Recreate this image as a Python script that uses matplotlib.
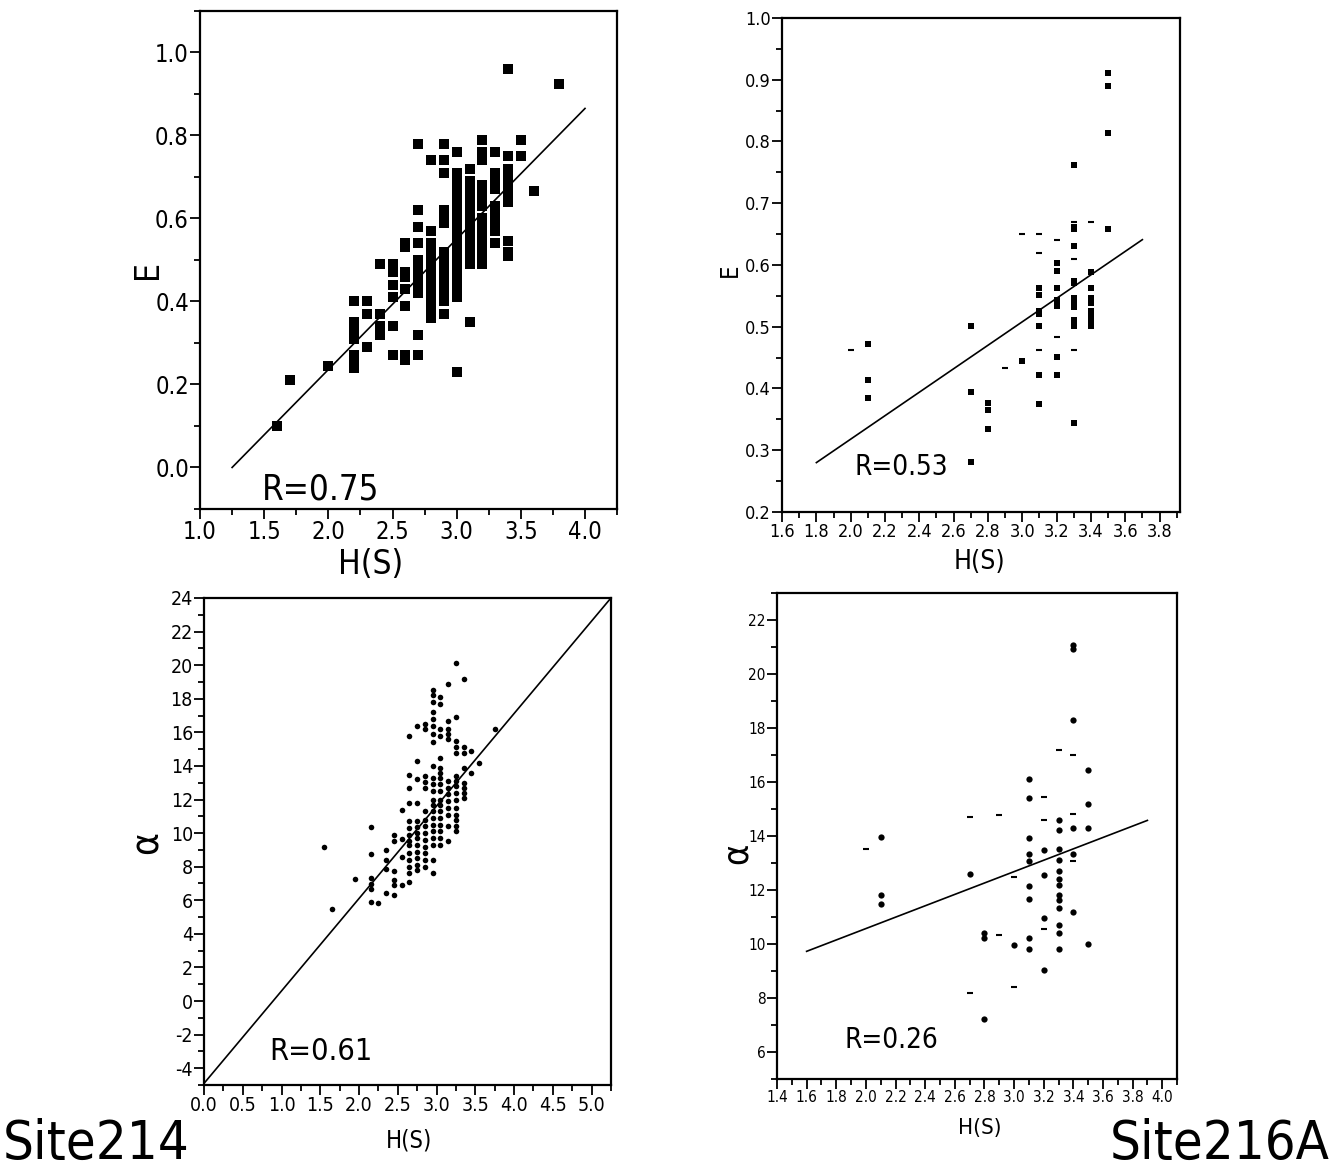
import numpy as np
import matplotlib
matplotlib.use('Agg')
import matplotlib.pyplot as plt
from matplotlib.ticker import FixedLocator, MultipleLocator, FormatStrFormatter

plt.rcParams['font.family'] = ['DejaVu Sans']
plt.rcParams['font.stretch'] = 'condensed'

# ---- Site 214 : E against H(S) ----
h214_e_cols = [1.6, 1.7, 2.0, 2.2, 2.3, 2.4, 2.5, 2.6, 2.7, 2.8, 2.9, 3.0, 3.1, 3.2, 3.3, 3.4, 3.5, 3.6, 3.8]
e214_cols = [
    [0.10],
    [0.21],
    [0.245],
    [0.24, 0.26, 0.27, 0.31, 0.32, 0.34, 0.35, 0.40],
    [0.29, 0.37, 0.40],
    [0.32, 0.34, 0.37, 0.49],
    [0.27, 0.34, 0.41, 0.44, 0.47, 0.49],
    [0.26, 0.27, 0.39, 0.43, 0.46, 0.47, 0.53, 0.54],
    [0.27, 0.32, 0.42, 0.44, 0.46, 0.48, 0.50, 0.54, 0.58, 0.62, 0.78],
    [0.36, 0.38, 0.40, 0.42, 0.44, 0.46, 0.48, 0.50, 0.52, 0.54, 0.57, 0.74],
    [0.37, 0.40, 0.42, 0.44, 0.46, 0.48, 0.50, 0.52, 0.59, 0.61, 0.62, 0.71, 0.74, 0.78],
    [0.23, 0.41, 0.43, 0.45, 0.47, 0.49, 0.51, 0.53, 0.55, 0.57, 0.59, 0.61, 0.63, 0.65, 0.67, 0.69, 0.71, 0.76],
    [0.35, 0.49, 0.51, 0.53, 0.55, 0.57, 0.59, 0.61, 0.63, 0.65, 0.67, 0.69, 0.72],
    [0.49, 0.50, 0.52, 0.54, 0.56, 0.58, 0.60, 0.63, 0.65, 0.67, 0.68, 0.74, 0.76, 0.79],
    [0.54, 0.57, 0.59, 0.61, 0.63, 0.67, 0.69, 0.71, 0.76],
    [0.51, 0.52, 0.545, 0.64, 0.66, 0.68, 0.70, 0.72, 0.75, 0.96],
    [0.75, 0.79],
    [0.665],
    [0.925],
]
fit214_e_x = [1.25, 4.0]
fit214_e_y = [0.0, 0.865]

# ---- Site 216A : E against H(S) ----
h216_e_cols = [2.1, 2.7, 2.8, 3.0, 3.1, 3.2, 3.3, 3.4, 3.5]
e216_cols = [
    [0.385, 0.413, 0.472],
    [0.281, 0.394, 0.502],
    [0.334, 0.365, 0.376],
    [0.444],
    [0.375, 0.422, 0.502, 0.521, 0.526, 0.552, 0.562],
    [0.422, 0.451, 0.534, 0.544, 0.562, 0.59, 0.604],
    [0.344, 0.502, 0.511, 0.532, 0.541, 0.547, 0.571, 0.574, 0.631, 0.658, 0.661, 0.762],
    [0.502, 0.508, 0.517, 0.526, 0.538, 0.547, 0.562, 0.589],
    [0.659, 0.813, 0.89, 0.911],
]
h216_e_dash = [2.0, 2.9, 3.0, 3.1, 3.1, 3.1, 3.2, 3.2, 3.3, 3.3, 3.3, 3.4]
e216_dash = [0.463, 0.433, 0.65, 0.65, 0.619, 0.463, 0.641, 0.484, 0.67, 0.61, 0.463, 0.67]
fit216_e_x = [1.8, 3.7]
fit216_e_y = [0.28, 0.641]

# ---- Site 214 : alpha against H(S) ----
h214_a_cols = [1.55, 1.65, 1.95, 2.15, 2.25, 2.35, 2.45, 2.55, 2.65, 2.75, 2.85, 2.95, 3.05, 3.15, 3.25, 3.35, 3.45, 3.55, 3.75]
a214_cols = [
    [9.15],
    [5.5],
    [7.25],
    [5.9, 6.65, 6.95, 7.3, 8.75, 10.35],
    [5.85],
    [6.45, 7.85, 8.4, 9.0],
    [6.3, 6.9, 7.2, 7.75, 9.55, 9.9],
    [6.9, 8.55, 9.65, 11.35],
    [7.1, 7.65, 8.0, 8.4, 8.8, 9.3, 9.55, 9.9, 10.3, 10.7, 11.8, 12.7, 13.45, 15.8],
    [7.8, 8.1, 8.5, 8.9, 9.3, 9.7, 10.0, 10.35, 10.7, 11.8, 13.2, 14.3, 16.4],
    [8.0, 8.4, 8.8, 9.2, 9.6, 10.0, 10.4, 10.8, 11.3, 12.7, 13.05, 13.4, 16.2, 16.5],
    [7.65, 8.4, 9.3, 9.7, 10.1, 10.5, 10.9, 11.3, 11.7, 12.0, 12.5, 12.9, 13.3, 14.0, 15.4, 15.9, 16.4, 16.8, 17.2, 17.8, 18.2, 18.5],
    [9.3, 9.7, 10.1, 10.5, 10.9, 11.3, 11.7, 12.0, 12.5, 12.9, 13.3, 13.6, 13.9, 14.5, 15.8, 16.2, 17.7, 18.1],
    [9.55, 10.4, 11.1, 11.5, 11.9, 12.3, 12.7, 13.1, 15.6, 15.9, 16.2, 16.7, 18.85],
    [10.1, 10.4, 10.8, 11.1, 11.5, 12.0, 12.4, 12.8, 13.1, 13.4, 14.8, 15.1, 15.5, 16.9, 20.1],
    [12.1, 12.4, 12.7, 13.0, 13.9, 14.8, 15.1, 19.2],
    [13.6, 14.9],
    [14.2],
    [16.2],
]
fit214_a_x = [0.0, 5.25]
fit214_a_y = [-4.9, 24.0]

# ---- Site 216A : alpha against H(S) ----
h216_a_cols = [2.1, 2.8, 2.7, 3.0, 3.1, 3.2, 3.3, 3.4, 3.5]
a216_cols = [
    [11.48, 11.82, 13.95],
    [7.22, 10.21, 10.42],
    [12.6],
    [9.98],
    [9.8, 10.23, 11.68, 12.14, 13.07, 13.35, 13.91, 15.42, 16.11],
    [9.04, 10.95, 12.56, 13.49],
    [9.8, 10.42, 10.7, 11.34, 11.62, 11.82, 12.18, 12.42, 12.7, 13.12, 13.53, 14.23, 14.58],
    [11.2, 13.35, 14.3, 18.3, 20.93, 21.07],
    [10.0, 14.3, 15.2, 16.46],
]
h216_a_dash = [2.0, 2.7, 2.7, 2.9, 2.9, 3.0, 3.0, 3.2, 3.2, 3.2, 3.3, 3.4, 3.4, 3.4]
a216_dash = [13.53, 14.69, 8.19, 14.79, 10.33, 12.49, 8.4, 14.61, 15.46, 10.54, 17.2, 17.02, 14.82, 13.07]
fit216_a_x = [1.6, 3.9]
fit216_a_y = [9.73, 14.58]


def flatten(xcols, ycols):
    xs, ys = [], []
    for x, col in zip(xcols, ycols):
        xs += [x] * len(col)
        ys += col
    return np.array(xs), np.array(ys)


def frame(ax, xlim, ylim, xmajor, xminor, ymajor, yminor, xfmt, yfmt, fs):
    ax.set_xlim(*xlim)
    ax.set_ylim(*ylim)
    ax.xaxis.set_major_locator(FixedLocator(xmajor))
    ax.xaxis.set_minor_locator(MultipleLocator(xminor))
    ax.yaxis.set_major_locator(FixedLocator(ymajor))
    ax.yaxis.set_minor_locator(MultipleLocator(yminor))
    ax.xaxis.set_major_formatter(FormatStrFormatter(xfmt))
    ax.yaxis.set_major_formatter(FormatStrFormatter(yfmt))
    ax.tick_params(which='both', direction='out', top=False, right=False,
                   width=1.3, labelsize=fs, pad=1, colors='black')
    ax.tick_params(which='major', length=7)
    ax.tick_params(which='minor', length=4)
    for s in ax.spines.values():
        s.set_linewidth(1.6)


fig = plt.figure(figsize=(13.38, 11.73), dpi=100)

# top left
ax1 = fig.add_axes([0.1495, 0.5661, 0.3117, 0.4246])
x, y = flatten(h214_e_cols, e214_cols)
ax1.plot(x, y, 's', color='black', ms=7.5, mew=0)
ax1.plot(fit214_e_x, fit214_e_y, '-', color='black', lw=1.2)
frame(ax1, (1.0, 4.25), (-0.1, 1.1), [1.0, 1.5, 2.0, 2.5, 3.0, 3.5, 4.0], 0.25,
      [0.0, 0.2, 0.4, 0.6, 0.8, 1.0], 0.1, '%.1f', '%.1f', 17)
ax1.text(0.149, 0.018, 'R=0.75', transform=ax1.transAxes, fontsize=25, va='baseline')
ax1.text(0.41, -0.112, 'H(S)', transform=ax1.transAxes, fontsize=24, ha='center', va='center')
ax1.text(-0.125, 0.48, 'E', transform=ax1.transAxes, fontsize=24, ha='center', va='center', rotation=90)

# top right
ax2 = fig.add_axes([0.5845, 0.5635, 0.2975, 0.4212])
x, y = flatten(h216_e_cols, e216_cols)
ax2.plot(x, y, 's', color='black', ms=4.5, mew=0)
ax2.plot(h216_e_dash, e216_dash, '_', color='black', ms=5, mew=1.5)
ax2.plot(fit216_e_x, fit216_e_y, '-', color='black', lw=1.2)
frame(ax2, (1.6, 3.92), (0.2, 1.0), [1.6, 1.8, 2.0, 2.2, 2.4, 2.6, 2.8, 3.0, 3.2, 3.4, 3.6, 3.8], 0.1,
      [0.2, 0.3, 0.4, 0.5, 0.6, 0.7, 0.8, 0.9, 1.0], 0.05, '%.1f', '%.1f', 13)
ax2.text(0.183, 0.075, 'R=0.53', transform=ax2.transAxes, fontsize=20, va='baseline')
ax2.text(0.497, -0.101, 'H(S)', transform=ax2.transAxes, fontsize=19, ha='center', va='center')
ax2.text(-0.13, 0.49, 'E', transform=ax2.transAxes, fontsize=17, ha='center', va='center', rotation=90)

# bottom left
ax3 = fig.add_axes([0.1525, 0.0750, 0.3041, 0.4152])
x, y = flatten(h214_a_cols, a214_cols)
ax3.plot(x, y, 'o', color='black', ms=4, mew=0)
ax3.plot(fit214_a_x, fit214_a_y, '-', color='black', lw=1.2)
frame(ax3, (0.0, 5.25), (-5, 24), [0.0, 0.5, 1.0, 1.5, 2.0, 2.5, 3.0, 3.5, 4.0, 4.5, 5.0], 0.25,
      list(range(-4, 25, 2)), 1, '%.1f', '%d', 14)
ax3.text(0.16, 0.051, 'R=0.61', transform=ax3.transAxes, fontsize=22, va='baseline')
ax3.text(0.505, -0.113, 'H(S)', transform=ax3.transAxes, fontsize=17, ha='center', va='center')
ax3.text(-0.14, 0.497, 'α', transform=ax3.transAxes, fontsize=28, ha='center', va='center', rotation=90)

# bottom right
ax4 = fig.add_axes([0.5807, 0.0801, 0.2990, 0.4143])
x, y = flatten(h216_a_cols, a216_cols)
ax4.plot(x, y, 'o', color='black', ms=4.5, mew=0)
ax4.plot(h216_a_dash, a216_dash, '_', color='black', ms=5, mew=1.5)
ax4.plot(fit216_a_x, fit216_a_y, '-', color='black', lw=1.2)
frame(ax4, (1.4, 4.1), (5, 23), [1.4, 1.6, 1.8, 2.0, 2.2, 2.4, 2.6, 2.8, 3.0, 3.2, 3.4, 3.6, 3.8, 4.0], 0.1,
      list(range(6, 23, 2)), 1, '%.1f', '%d', 11)
ax4.text(0.17, 0.064, 'R=0.26', transform=ax4.transAxes, fontsize=20, va='baseline')
ax4.text(0.507, -0.10, 'H(S)', transform=ax4.transAxes, fontsize=16, ha='center', va='center')
ax4.text(-0.10, 0.465, 'α', transform=ax4.transAxes, fontsize=26, ha='center', va='center', rotation=90)

fig.text(0.002, 0.003, 'Site214', fontsize=39, va='bottom', ha='left')
fig.text(0.994, 0.003, 'Site216A', fontsize=39, va='bottom', ha='right')

fig.savefig('out.png', dpi=100, facecolor='white')
